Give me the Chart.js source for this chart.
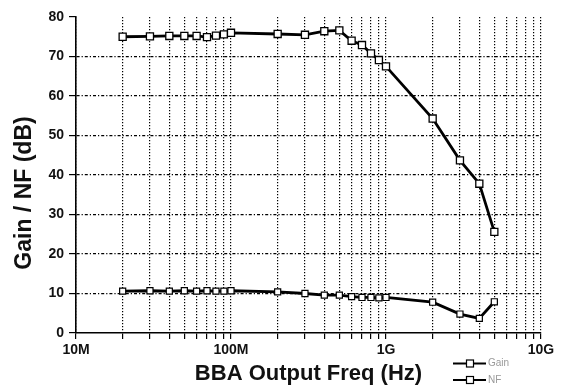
<!DOCTYPE html>
<html>
<head>
<meta charset="utf-8">
<script src="https://cdn.jsdelivr.net/npm/chart.js@4/dist/chart.umd.min.js"></script>
<style>
    html, body { margin: 0; padding: 0; background: #fff; }
    #wrap { width: 566px; height: 387px; position: relative; }
</style>
</head>
<body>
<div id="wrap"><canvas id="chart"></canvas></div>
<script>
// ── DATA ──
const freqHz  = [20e6, 30e6, 40e6, 50e6, 60e6, 70e6, 80e6, 90e6, 100e6, 200e6, 300e6, 400e6, 500e6, 600e6, 700e6, 800e6, 900e6, 1e9, 2e9, 3e9, 4e9, 5e9];
const gainDb  = [75.0, 75.1, 75.2, 75.2, 75.2, 74.9, 75.3, 75.6, 76.0, 75.7, 75.5, 76.4, 76.6, 74.0, 72.9, 70.8, 69.1, 67.5, 54.3, 43.7, 37.8, 25.6];
const nfDb    = [10.6, 10.7, 10.6, 10.7, 10.6, 10.7, 10.6, 10.6, 10.7, 10.4, 10.0, 9.6, 9.6, 9.2, 9.0, 9.0, 8.9, 9.0, 7.8, 4.8, 3.7, 7.9];
const seriesNames = ['Gain', 'NF'];
const xDecades = [1e7, 1e8, 1e9, 1e10];
const xDecadeLabels = ['10M', '100M', '1G', '10G'];
const yTitle = 'Gain / NF (dB)';
const xTitle = 'BBA Output Freq (Hz)';

// log grid: 1..9 per decade, plus last decade
const xTickVals = [];
xDecades.slice(0, -1).forEach(d => { for (let k = 1; k <= 9; k++) xTickVals.push(d * k); });
xTickVals.push(xDecades[xDecades.length - 1]);

const FONT = "'Liberation Sans', Arial, sans-serif";
const pts = arr => freqHz.map((f, i) => ({ x: f, y: arr[i] }));

// ── Y TITLE (offset from axis centre like the original) ──
const yTitlePlugin = {
    id: 'yTitle',
    afterDraw(chart) {
        const c = chart.ctx;
        c.save();
        c.translate(25, 193);
        c.rotate(-Math.PI / 2);
        c.font = `bold 23px ${FONT}`;
        c.fillStyle = '#111';
        c.textAlign = 'center';
        c.textBaseline = 'middle';
        c.fillText(yTitle, 0, 0);
        c.restore();
    }
};

// ── SMALL LEGEND BOTTOM RIGHT ──
const legendPlugin = {
    id: 'miniLegend',
    afterDraw(chart) {
        const c = chart.ctx;
        chart.data.datasets.forEach((ds, i) => {
            const y = 363.5 + i * 16.5;
            c.save();
            c.strokeStyle = '#000'; c.lineWidth = 2;
            c.beginPath(); c.moveTo(453, y); c.lineTo(486, y); c.stroke();
            c.fillStyle = '#fff'; c.lineWidth = 1.2;
            c.fillRect(466.5, y - 3.5, 7, 7); c.strokeRect(466.5, y - 3.5, 7, 7);
            c.font = `10px ${FONT}`;
            c.fillStyle = '#9a9a9a';
            c.textBaseline = 'middle';
            c.fillText(ds.label, 488, y);
            c.restore();
        });
    }
};

new Chart(document.getElementById('chart'), {
    type: 'line',
    data: {
        datasets: [
            { label: seriesNames[0], data: pts(gainDb), borderColor: '#000', borderWidth: 2.8,
              pointStyle: 'rect', pointRadius: 5, pointBackgroundColor: '#fff', pointBorderColor: '#000', pointBorderWidth: 1.3 },
            { label: seriesNames[1], data: pts(nfDb), borderColor: '#000', borderWidth: 2.8,
              pointStyle: 'rect', pointRadius: 4.3, pointBackgroundColor: '#fff', pointBorderColor: '#000', pointBorderWidth: 1.2 }
        ]
    },
    options: {
        responsive: true, maintainAspectRatio: false, animation: false,
        layout: { padding: { top: 17, right: 25, left: 0, bottom: 0 } },
        plugins: { legend: { display: false }, tooltip: { enabled: false } },
        scales: {
            x: {
                type: 'logarithmic', min: 1e7, max: 1e10,
                afterBuildTicks: axis => { axis.ticks = xTickVals.map(v => ({ value: v })); },
                afterFit: s => { s.height = 54; },
                ticks: {
                    autoSkip: false, maxRotation: 0, padding: 3,
                    font: { family: FONT, size: 14, weight: 'bold' }, color: '#111',
                    callback: v => { const i = xDecades.indexOf(v); return i >= 0 ? xDecadeLabels[i] : ''; }
                },
                grid: { color: '#000', lineWidth: 1.2, tickLength: 6, tickColor: '#000', tickWidth: 1.2 },
                border: { display: true, color: '#000', width: 1.6, dash: [1.2, 1.8] }
            ,
                title: { display: true, text: xTitle, font: { family: FONT, size: 22, weight: 'bold' }, color: '#111', padding: { top: 0, bottom: 0 } }
            },
            y: {
                min: 0, max: 80,
                afterFit: s => { s.width = 76; },
                ticks: {
                    stepSize: 5, padding: 5,
                    font: { family: FONT, size: 14, weight: 'bold' }, color: '#111',
                    callback: v => (v % 10 === 0 ? v : '')
                },
                grid: {
                    lineWidth: 1.2, tickLength: 7, tickColor: '#000', tickWidth: 1.2,
                    color: ctx => (ctx.tick && ctx.tick.value % 10 === 0 && ctx.tick.value > 0 && ctx.tick.value < 80) ? '#000' : 'rgba(0,0,0,0)'
                },
                border: { display: true, color: '#000', width: 1.6, dash: [3, 2, 1.2, 2] }
            }
        }
    },
    plugins: [yTitlePlugin, legendPlugin]
});
</script>
</body>
</html>
